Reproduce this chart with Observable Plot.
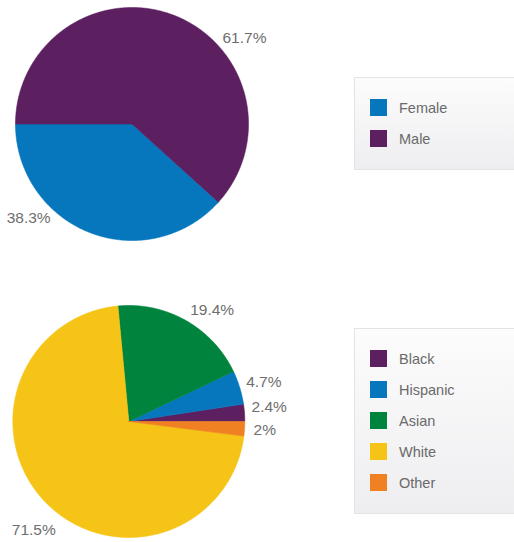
<!DOCTYPE html>
<html>
<head>
<meta charset="utf-8">
<script src="https://cdn.jsdelivr.net/npm/d3@7"></script>
<script src="https://cdn.jsdelivr.net/npm/@observablehq/plot@0.6"></script>
<style>
  html, body { margin: 0; padding: 0; background: #fff; }
  #wrap { position: relative; width: 514px; height: 542px; overflow: hidden; font-family: "Liberation Sans", Arial, sans-serif; }
  #wrap svg { position: absolute; left: 0; top: 0; }
  .legend { position: absolute; left: 354px; width: 220px; box-sizing: border-box;
            border: 1px solid #e3e3e3; background: linear-gradient(#fcfcfd, #eeeef0); }
  .item { position: absolute; left: 15px; height: 17px; display: flex; align-items: center; }
  .sw { width: 17px; height: 17px; margin-right: 12px; }
  .lab { font-size: 14.5px; color: #6a6a6a; }
</style>
</head>
<body>
<div id="wrap"></div>
<script>
// ---- data ----
const sexCategories = ["Female", "Male"];
const sexValues = [38.3, 61.7];
const sexColors = ["#0677bd", "#5c1f5f"];

const raceCategories = ["Black", "Hispanic", "Asian", "White", "Other"];
const raceValues = [2.4, 4.7, 19.4, 71.5, 2];
const raceColors = ["#5c1f5f", "#0677bd", "#00843d", "#f5c416", "#ef8123"];

// ---- layout (label placement angles in degrees clockwise from 12 o'clock, gap outside the rim) ----
const sexLabelAngle = [220.8, 46.6];
const sexLabelGap = [8, 8];
const raceLabelAngle = [83.5, 71.2, 28.9, 213.9, 93.7];
const raceLabelGap = [7.5, 8, 11, 15, 9];

const W = 514, H = 542;
const pies = [
  {key: "sex", cats: sexCategories, vals: sexValues, cx: 131.5, cy: 123.5, r: 116.5, start: -Math.PI / 2,
   la: sexLabelAngle, lg: sexLabelGap},
  {key: "race", cats: raceCategories, vals: raceValues, cx: 128.3, cy: 421, r: 116, start: Math.PI / 2,
   la: raceLabelAngle, lg: raceLabelGap}
];

const pts = [];
const labels = [];
for (const p of pies) {
  const data = p.cats.map((c, i) => ({cat: c, value: p.vals[i]}));
  const arcs = d3.pie().sort(null).value(d => d.value)
    .startAngle(p.start).endAngle(p.start - 2 * Math.PI)(data);
  arcs.forEach((a, i) => {
    const key = p.key + "-" + a.data.cat;
    const span = a.endAngle - a.startAngle;
    const n = Math.max(2, Math.ceil(Math.abs(span) / (Math.PI / 360)));
    pts.push({key, cat: a.data.cat, x: p.cx, y: p.cy});
    for (let k = 0; k <= n; k++) {
      const t = a.startAngle + span * k / n;
      pts.push({key, cat: a.data.cat, x: p.cx + p.r * Math.sin(t), y: p.cy - p.r * Math.cos(t)});
    }
    pts.push({key, cat: a.data.cat, x: p.cx, y: p.cy});
    const ang = p.la[i] * Math.PI / 180, R = p.r + p.lg[i];
    const lx = p.cx + R * Math.sin(ang), ly = p.cy - R * Math.cos(ang);
    labels.push({x: lx, y: ly, text: a.data.value + "%", side: Math.sin(ang) >= 0 ? "right" : "left"});
  });
}

const chart = Plot.plot({
  width: W, height: H, margin: 0,
  x: {domain: [0, W], range: [0, W], axis: null},
  y: {domain: [0, H], range: [0, H], axis: null},
  color: {domain: [...sexCategories, ...raceCategories], range: [...sexColors, ...raceColors]},
  style: {fontFamily: "'Liberation Sans', Arial, sans-serif", background: "transparent"},
  marks: [
    Plot.line(pts, {x: "x", y: "y", z: "key", fill: "cat", stroke: "cat", strokeWidth: 0.6, curve: "linear"}),
    Plot.text(labels.filter(d => d.side === "right"), {x: "x", y: "y", text: "text", textAnchor: "start", fontSize: 15.5, fill: "#6e6e6e"}),
    Plot.text(labels.filter(d => d.side === "left"), {x: "x", y: "y", text: "text", textAnchor: "end", fontSize: 15.5, fill: "#6e6e6e"})
  ]
});

const wrap = document.getElementById("wrap");
wrap.appendChild(chart);

// ---- legends ----
function legend(cats, colors, top, height) {
  const box = document.createElement("div");
  box.className = "legend";
  box.style.top = top + "px";
  box.style.height = height + "px";
  cats.forEach((c, i) => {
    const it = document.createElement("div");
    it.className = "item";
    it.style.top = (21 + i * 31) + "px";
    const sw = document.createElement("div");
    sw.className = "sw";
    sw.style.background = colors[i];
    const lb = document.createElement("span");
    lb.className = "lab";
    lb.textContent = c;
    it.appendChild(sw); it.appendChild(lb);
    box.appendChild(it);
  });
  wrap.appendChild(box);
}
legend(sexCategories, sexColors, 77, 93);
legend(raceCategories, raceColors, 328, 186);
</script>
</body>
</html>
